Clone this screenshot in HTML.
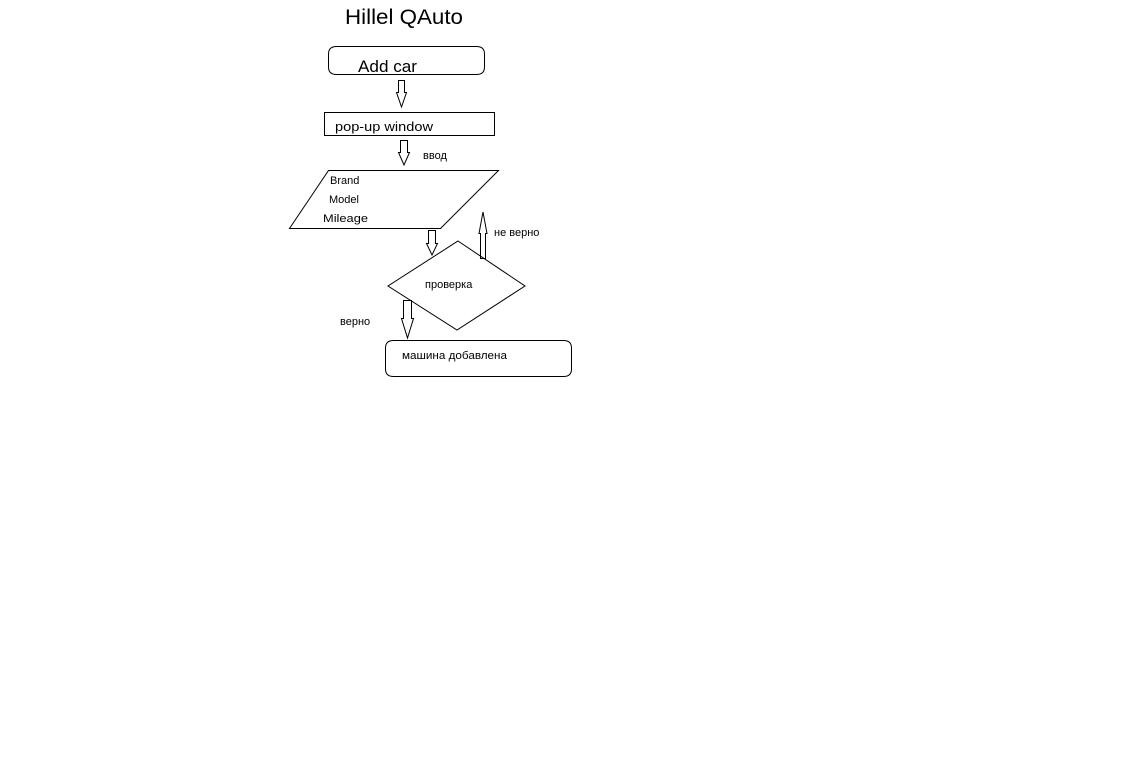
<!DOCTYPE html>
<html><head><meta charset="utf-8"><style>
body{margin:0;background:#fff;}
svg{display:block;}
text{font-family:"Liberation Sans","DejaVu Sans",sans-serif;fill:#000;}
</style></head><body>
<svg width="1148" height="766" viewBox="0 0 1148 766" xmlns="http://www.w3.org/2000/svg">
<g fill="none" stroke="#000" stroke-width="1">
<path d="M336.5 46.5 H476.5 Q484.5 46.5 484.5 54 V67 Q484.5 74.5 476.5 74.5 H336.5 Q328.5 74.5 328.5 67 V54 Q328.5 46.5 336.5 46.5 Z"/>
<path d="M398.5 80.5 H404.5 V92.5 H406.5 L401.5 107 L396.5 92.5 H398.5 Z"/>
<rect x="324.5" y="112.5" width="170" height="23"/>
<path d="M400.5 140.5 H407.5 V152.5 H409.5 L404 165 L398.5 152.5 H400.5 Z"/>
<path d="M328.5 170.5 H498.5 L440.5 228.5 H289.5 Z"/>
<path d="M428.5 230.5 H435.5 V243.5 H437.5 L432 255 L426.5 243.5 H428.5 Z"/>
<path d="M458 241 L525 286 L457 330 L388 286 Z"/>
<path d="M480.5 258.5 H485.5 V233.5 H487 L483 212 L479 233.5 H480.5 Z"/>
<path d="M403.5 300.5 H411.5 V318.5 H413.5 L407.5 338 L401.5 318.5 H403.5 Z"/>
<path d="M393.5 340.5 H563.5 Q571.5 340.5 571.5 348 V369 Q571.5 376.5 563.5 376.5 H393.5 Q385.5 376.5 385.5 369 V348 Q385.5 340.5 393.5 340.5 Z"/>
</g>
<text x="345" y="24" font-size="21" textLength="118" lengthAdjust="spacingAndGlyphs">Hillel QAuto</text>
<text x="358" y="72" font-size="17" textLength="59" lengthAdjust="spacingAndGlyphs">Add car</text>
<text x="335" y="131" font-size="13" textLength="98" lengthAdjust="spacingAndGlyphs">pop-up window</text>
<text x="423" y="159" font-size="11">ввод</text>
<text x="330" y="184" font-size="11">Brand</text>
<text x="329" y="203" font-size="11">Model</text>
<text x="323" y="222" font-size="11" textLength="45" lengthAdjust="spacingAndGlyphs">Mileage</text>
<text x="494" y="236" font-size="11">не верно</text>
<text x="425" y="288" font-size="11">проверка</text>
<text x="340" y="325" font-size="11">верно</text>
<text x="402" y="359" font-size="11" textLength="105" lengthAdjust="spacingAndGlyphs">машина добавлена</text>
</svg>
</body></html>
